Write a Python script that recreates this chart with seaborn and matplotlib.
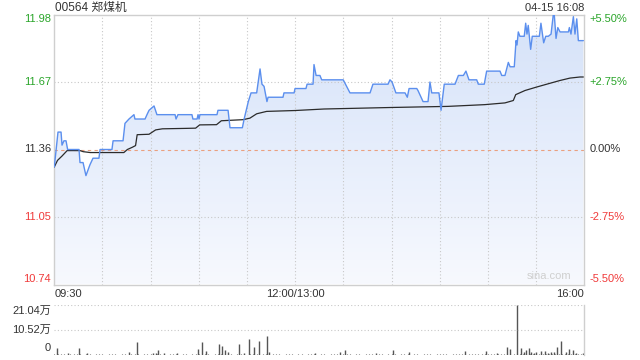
import numpy as np
import matplotlib
matplotlib.use("Agg")
import matplotlib.pyplot as plt
import seaborn as sns
from matplotlib.patches import Polygon
from matplotlib.colors import LinearSegmentedColormap

# ---------------- data ----------------
title = "00564 郑煤机"
stamp = "04-15 16:08"
prev_close = 11.36
left_ticks = [11.98, 11.67, 11.36, 11.05, 10.74]
right_labels = ["+5.50%", "+2.75%", "0.00%", "-2.75%", "-5.50%"]
time_labels = ["09:30", "12:00/13:00", "16:00"]
time_pos = [0, 150, 330]
vol_tick_labels = ["21.04万", "10.52万", "0"]
vol_max = 21.04

price_min = [0, 2.3, 4.2, 4.8, 6.0, 7.3, 8.3, 15.4, 16.0, 17.9, 19.7, 22.2, 24.1, 27.8, 28.5,
             35.9, 36.6, 42.8, 44.0, 46.5, 49.6, 50.2, 56.5, 57.7, 59.0, 62.1, 63.9, 75.2, 75.8,
             77.0, 85.7, 86.3, 88.9, 89.5, 90.1, 90.7, 101.3, 101.9, 108.2, 109.4, 117.1, 118.2,
             120.8, 122.5, 126.0, 128.1, 129.3, 130.6, 132.4, 133.1, 142.4, 143.0, 149.3, 149.9,
             156.7, 157.4, 161.1, 161.7, 163.0, 165.4, 166.5, 179.9, 184.1, 196.6, 198.4, 207.8,
             209.0, 210.3, 212.7, 218.4, 219.8, 220.9, 225.7, 226.5, 229.6, 232.7, 233.9, 235.0,
             239.5, 240.8, 242.8, 249.5, 251.6, 254.7, 256.3, 258.2, 263.0, 264.0, 267.7, 269.2,
             277.5, 278.6, 280.6, 282.7, 283.8, 286.4, 287.5, 288.1, 288.9, 289.9, 292.6, 293.5,
             294.3, 295.1, 296.6, 297.6, 302.0, 303.0, 304.7, 306.0, 307.6, 309.3, 310.7, 311.3,
             312.4, 313.5, 314.9, 320.1, 320.7, 321.7, 323.2, 324.2, 325.3, 326.3, 329.4]
price_val = [11.28, 11.44, 11.44, 11.38, 11.40, 11.40, 11.36, 11.36, 11.30, 11.30, 11.24, 11.29,
             11.32, 11.32, 11.36, 11.36, 11.40, 11.40, 11.48, 11.50, 11.52, 11.50, 11.50, 11.52,
             11.54, 11.56, 11.52, 11.52, 11.50, 11.52, 11.52, 11.50, 11.50, 11.52, 11.50, 11.52,
             11.52, 11.54, 11.54, 11.46, 11.46, 11.50, 11.58, 11.62, 11.62, 11.73, 11.66, 11.65,
             11.58, 11.60, 11.60, 11.62, 11.62, 11.64, 11.64, 11.66, 11.66, 11.75, 11.70, 11.70,
             11.68, 11.68, 11.62, 11.62, 11.66, 11.66, 11.68, 11.67, 11.62, 11.62, 11.60, 11.64,
             11.64, 11.63, 11.58, 11.58, 11.67, 11.62, 11.62, 11.54, 11.66, 11.66, 11.70, 11.70,
             11.72, 11.68, 11.68, 11.66, 11.66, 11.72, 11.72, 11.70, 11.70, 11.76, 11.74, 11.74,
             11.86, 11.84, 11.90, 11.88, 11.88, 11.94, 11.89, 11.93, 11.82, 11.88, 11.88, 11.94,
             11.85, 11.88, 11.88, 11.89, 11.98, 11.98, 11.87, 11.92, 11.90, 11.90, 11.92, 11.89,
             11.97, 11.89, 11.96, 11.86, 11.86]

avg_min = [0, 2.0, 4.8, 8.0, 16.0, 18.0, 22.4, 43.3, 45.5, 48.5, 50.6, 51.6, 59.0, 63.1, 67.3,
           82.0, 88.0, 90.5, 101.0, 104.0, 117.5, 121.8, 126.0, 132.2, 149.9, 168.0, 180.0,
           210.0, 245.0, 268.0, 280.6, 285.8, 287.3, 293.1, 300.4, 307.6, 314.9, 321.1, 327.3, 329.4]
avg_val = [11.28, 11.31, 11.33, 11.355, 11.355, 11.35, 11.346, 11.346, 11.36, 11.37, 11.378,
           11.428, 11.43, 11.45, 11.455, 11.457, 11.458, 11.473, 11.474, 11.492, 11.497, 11.504,
           11.524, 11.535, 11.539, 11.546, 11.548, 11.553, 11.558, 11.566, 11.574, 11.585, 11.612,
           11.631, 11.647, 11.662, 11.677, 11.688, 11.693, 11.693]

# notable volume bars (minute, 万)
vol_min = [1.9, 8.7, 15.6, 20.2, 46.7, 51.7, 61.6, 63.3, 64.8, 68.3, 76.6, 89.7, 91.8, 94.5,
           102.8, 104.6, 106.5, 108.3, 114.8, 118.1, 121.2, 124.5, 127.6, 132.6, 133.6, 162.3,
           177.7, 181.2, 200.5, 211.0, 220.7, 255.5, 269.0, 275.7, 282.0, 283.7, 288.3, 290.8,
           292.5, 293.5, 295.4, 297.0, 298.7, 300.1, 302.9, 305.3, 307.4, 309.5, 311.2, 313.2,
           315.7, 318.8, 320.5, 323.0, 325.0, 329.2]
vol_val = [2.8, 0.7, 2.8, 0.7, 1.1, 5.3, 0.7, 0.7, 2.0, 0.7, 0.7, 2.4, 5.3, 1.7,
           4.6, 3.8, 2.1, 1.1, 4.6, 0.7, 6.7, 3.2, 5.9, 8.0, 1.1, 0.7,
           1.1, 2.1, 0.7, 2.1, 1.4, 1.7, 1.7, 0.7, 3.2, 2.4, 21.04, 2.8,
           1.4, 2.1, 2.8, 1.4, 1.0, 1.4, 1.7, 1.8, 1.0, 1.1, 1.4, 3.2,
           5.9, 1.1, 2.4, 2.1, 0.7, 1.0]

# small background volume, one value every two minutes (万)
base_vol = [0.4, 0.3, 0.5, 0.3, 0.2, 0.4, 0.3, 0.3, 0.5, 0.2,
            0.3, 0.4, 0.2, 0.3, 0.5, 0.3, 0.2, 0.4, 0.3, 0.3,
            0.2, 0.3, 0.4, 0.2, 0.3, 0.3, 0.5, 0.2, 0.3, 0.4,
            0.3, 0.2, 0.3, 0.4, 0.3, 0.2, 0.3, 0.5, 0.3, 0.2,
            0.4, 0.3, 0.2, 0.3, 0.3, 0.4, 0.2, 0.3, 0.3, 0.2,
            0.3, 0.4, 0.3, 0.2, 0.3, 0.3, 0.2, 0.4, 0.3, 0.3,
            0.2, 0.3, 0.3, 0.4, 0.2, 0.3, 0.3, 0.2, 0.3, 0.4,
            0.3, 0.2, 0.3, 0.3, 0.4, 0.2, 0.3, 0.3, 0.2, 0.3,
            0.4, 0.3, 0.2, 0.3, 0.3, 0.2, 0.4, 0.3, 0.3, 0.2,
            0.3, 0.3, 0.4, 0.2, 0.3, 0.3, 0.2, 0.3, 0.4, 0.3,
            0.2, 0.3, 0.3, 0.2, 0.4, 0.3, 0.3, 0.2, 0.3, 0.3,
            0.4, 0.2, 0.3, 0.3, 0.2, 0.3, 0.4, 0.3, 0.2, 0.3,
            0.3, 0.4, 0.3, 0.2, 0.3, 0.5, 0.3, 0.4, 0.3, 0.4,
            0.5, 0.3, 0.4, 0.6, 0.3, 0.4, 0.5, 0.3, 0.4, 0.5,
            0.4, 0.6, 0.3, 0.5, 0.4, 0.3, 0.5, 0.4, 0.6, 0.3,
            0.5, 0.4, 0.3, 0.5, 0.6, 0.4, 0.3, 0.5, 0.4, 0.3,
            0.4, 0.5, 0.3, 0.4, 0.3, 0.4]

# ---------------- style ----------------
sns.set_theme(style="white")
plt.rcParams["font.family"] = ["Liberation Sans", "Noto Sans CJK SC", "DejaVu Sans"]

GREEN = "#2aa52a"
RED = "#f03a3a"
DARK = "#333333"
GRID = "#c8c8c8"
BORDER = "#cfcfcf"
BLUE = "#5b8fee"

fig = plt.figure(figsize=(6.4, 3.6), dpi=100)
ax = fig.add_axes([54.3 / 640, 1 - 284.5 / 360, 530 / 640, 270 / 360])
axv = fig.add_axes([54.3 / 640, 1 - 355 / 360, 530 / 640, 50.3 / 360])

xmin, xmax = 0, 330
ylo, yhi = left_ticks[-1], left_ticks[0]

# gradient fill under price line
verts = [(price_min[0], ylo)] + list(zip(price_min, price_val)) + [(price_min[-1], ylo)]
poly = Polygon(verts, closed=True, facecolor="none", edgecolor="none")
ax.add_patch(poly)
cmap = LinearSegmentedColormap.from_list("g", ["#f7f9fe", "#d5e2f9"])
grad = np.linspace(0, 1, 256).reshape(-1, 1)
im = ax.imshow(grad, extent=[xmin, xmax, ylo, yhi], origin="lower", aspect="auto",
               cmap=cmap, zorder=1, interpolation="bilinear")
im.set_clip_path(poly)

# grid
for v in [left_ticks[1], left_ticks[3]]:
    ax.axhline(v, color=GRID, ls=(0, (1, 2)), lw=0.8, zorder=2)
for xv in range(30, 330, 30):
    ax.axvline(xv, color=GRID, ls=(0, (1, 2)), lw=0.8, zorder=2)
ax.axhline(prev_close, color="#e9a07f", ls=(0, (3, 3)), lw=0.8, zorder=2)

# lines
sns.lineplot(x=price_min, y=price_val, ax=ax, color=BLUE, lw=1.0, estimator=None,
             sort=False, zorder=4)
sns.lineplot(x=avg_min, y=avg_val, ax=ax, color="#2b2b2b", lw=0.9, estimator=None,
             sort=False, zorder=3)

ax.set_xlim(xmin, xmax)
ax.set_ylim(ylo, yhi)
ax.set_xticks([])
ax.set_yticks([])
ax.set_xlabel("")
ax.set_ylabel("")
for s in ax.spines.values():
    s.set_color(BORDER)
    s.set_linewidth(1.0)

# axis labels
lcolors = [GREEN, GREEN, DARK, RED, RED]
vas = ["top", "center", "center", "center", "bottom"]
for t, lab, c, va in zip(left_ticks, right_labels, lcolors, vas):
    ax.text(-0.0065, t, f"{t:.2f}", transform=ax.get_yaxis_transform(), ha="right",
            va=va, color=c, fontsize=8)
    ax.text(1.0105, t, lab, transform=ax.get_yaxis_transform(), ha="left",
            va=va, color=c, fontsize=8)

has = ["left", "center", "right"]
for p, lab, ha in zip(time_pos, time_labels, has):
    ax.text(p, -0.016, lab, transform=ax.get_xaxis_transform(), ha=ha, va="top",
            color=DARK, fontsize=8)

ax.text(0.975, 0.012, "sina.com", transform=ax.transAxes, ha="right", va="bottom",
        color="#cfcfcf", fontsize=8)

fig.text(55 / 640, 1 - 8 / 360, title, ha="left", va="center", color=DARK, fontsize=8.5)
fig.text(584 / 640, 1 - 8 / 360, stamp, ha="right", va="center", color=DARK, fontsize=8)

# ---------------- volume panel ----------------
base_min = np.arange(len(base_vol)) * 2
axv.vlines(base_min, 0, base_vol, color="#555555", lw=0.8)
axv.vlines(vol_min, 0, vol_val, color="#555555", lw=1.0)
axv.axhline(vol_max, color=GRID, ls=(0, (1, 2)), lw=0.8)
axv.axhline(vol_max / 2, color=GRID, ls=(0, (1, 2)), lw=0.8)
axv.set_xlim(xmin, xmax)
axv.set_ylim(0, vol_max)
axv.set_xticks([])
axv.set_yticks([])
for k in ["left", "top", "bottom"]:
    axv.spines[k].set_visible(False)
axv.spines["right"].set_color(BORDER)
axv.spines["right"].set_linewidth(1.0)

vpos = [vol_max * 0.875, vol_max / 2, vol_max * 0.14]
for y, lab in zip(vpos, vol_tick_labels):
    axv.text(-0.0065, y, lab, transform=axv.get_yaxis_transform(), ha="right",
             va="center", color=DARK, fontsize=8)

fig.savefig("out.png", dpi=100)
